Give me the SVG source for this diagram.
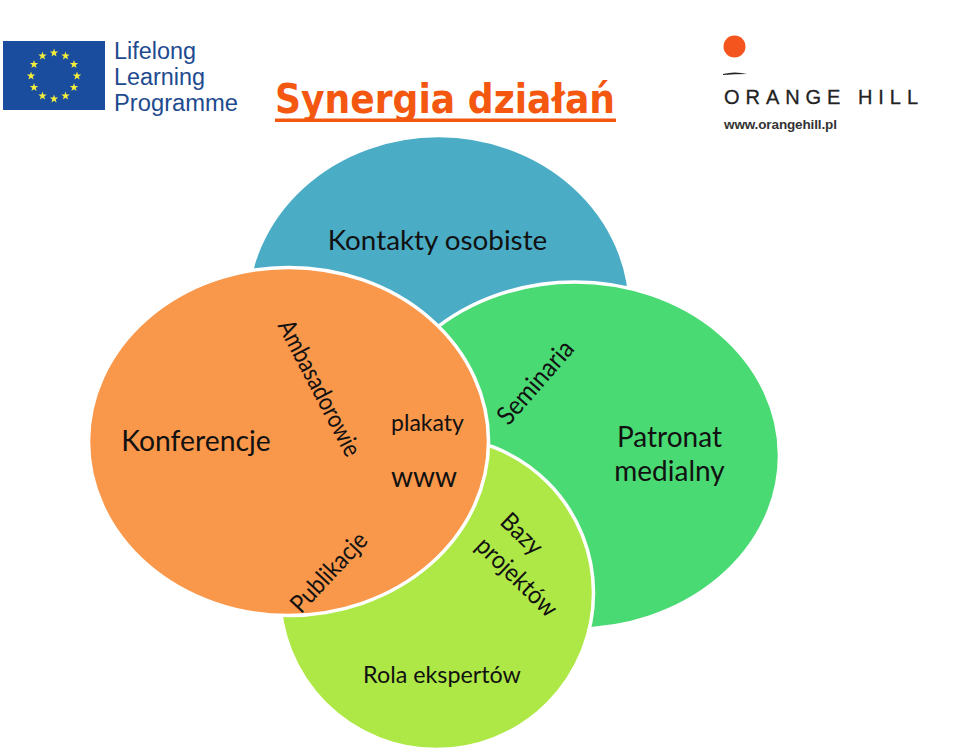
<svg xmlns="http://www.w3.org/2000/svg" width="959" height="754" viewBox="0 0 959 754">
<style>
.c{stroke:#fff;stroke-width:3.5}
.t{font-family:"Lato","Open Sans",sans-serif;fill:#111;text-anchor:middle}
.s{font-family:"Liberation Sans",sans-serif;fill:#1e4b8f}
</style>
<defs>
<polygon id="st" points="54,48.500 55,51.400 58.200,51.500 55.700,53.400 56.600,56.400 54,54.700 51.400,56.400 52.300,53.400 49.800,51.500 53,51.400" fill="#f4ee3a"/>
</defs>
<rect width="959" height="754" fill="#fff"/>
<g id="logo-eu">
<rect x="3" y="41" width="102" height="69" fill="#1a4d9e"/>
<use href="#st" x="0" y="0"/><use href="#st" x="11.500" y="3"/><use href="#st" x="20" y="11.500"/><use href="#st" x="23" y="23"/><use href="#st" x="20" y="34.500"/><use href="#st" x="11.500" y="43"/><use href="#st" x="0" y="46"/><use href="#st" x="-11.500" y="43"/><use href="#st" x="-20" y="34.500"/><use href="#st" x="-23" y="23"/><use href="#st" x="-20" y="11.500"/><use href="#st" x="-11.500" y="3"/>
<text class="s" x="114" y="59" font-size="23.500" textLength="82" lengthAdjust="spacingAndGlyphs">Lifelong</text>
<text class="s" x="114" y="85" font-size="23.500" textLength="91" lengthAdjust="spacingAndGlyphs">Learning</text>
<text class="s" x="114" y="111" font-size="23.500" textLength="124" lengthAdjust="spacingAndGlyphs">Programme</text>
</g>
<g id="title">
<text x="275" y="113" font-family="DejaVu Sans,sans-serif" font-weight="700" font-size="41" fill="#f4570f" textLength="340" lengthAdjust="spacingAndGlyphs">Synergia działań</text>
<rect x="275" y="118.500" width="341" height="3.500" fill="#f4570f"/>
</g>
<g id="logo-orange-hill">
<circle cx="734.500" cy="46.500" r="11" fill="#f4551e"/>
<path d="M723 74Q735 71 747 74Q735 74 723 75Z" fill="#222"/>
<text x="724" y="104" font-family="Liberation Sans,sans-serif" font-size="20" fill="#222" stroke="#222" stroke-width=".3" textLength="194" lengthAdjust="spacing">ORANGE HILL</text>
<text x="724" y="129" font-family="Liberation Sans,sans-serif" font-weight="700" font-size="13.500" fill="#333" textLength="113">www.orangehill.pl</text>
</g>
<g id="node-kontakty">
<ellipse class="c" cx="438.500" cy="310" rx="192" ry="174.500" fill="#4bacc6"/>
<text class="t" x="437.500" y="250" font-size="27.800">Kontakty osobiste</text>
</g>
<g id="node-patronat">
<ellipse class="c" cx="575" cy="455.500" rx="204.500" ry="173.500" fill="#4ada74"/>
<text class="t" x="669.500" y="447" font-size="28">Patronat</text>
<text class="t" x="669.500" y="481" font-size="28">medialny</text>
<text class="t" font-size="26" transform="translate(542 388) rotate(-49)" textLength="102" lengthAdjust="spacingAndGlyphs">Seminaria</text>
</g>
<g id="node-rola">
<ellipse class="c" cx="436.500" cy="593" rx="157" ry="156.500" fill="#aee846"/>
<text class="t" x="442" y="683" font-size="23.300">Rola ekspertów</text>
<text class="t" font-size="25" transform="translate(516 540) rotate(44)" textLength="48" lengthAdjust="spacingAndGlyphs">Bazy</text>
<text class="t" font-size="25" transform="translate(511 583) rotate(44)" textLength="102" lengthAdjust="spacingAndGlyphs">projektów</text>
</g>
<g id="node-konferencje">
<ellipse class="c" cx="288.500" cy="441.500" rx="200" ry="174" fill="#f9974b"/>
<text class="t" x="196" y="451" font-size="28.300">Konferencje</text>
<text class="t" x="427.500" y="431" font-size="23">plakaty</text>
<text class="t" x="424" y="487" font-size="28">www</text>
<text class="t" font-size="25" transform="translate(312 392) rotate(62.500)" textLength="150" lengthAdjust="spacingAndGlyphs">Ambasadorowie</text>
<text class="t" font-size="25" transform="translate(335 578) rotate(-47)" textLength="100" lengthAdjust="spacingAndGlyphs">Publikacje</text>
</g>
<g id="connectors"/>
</svg>
